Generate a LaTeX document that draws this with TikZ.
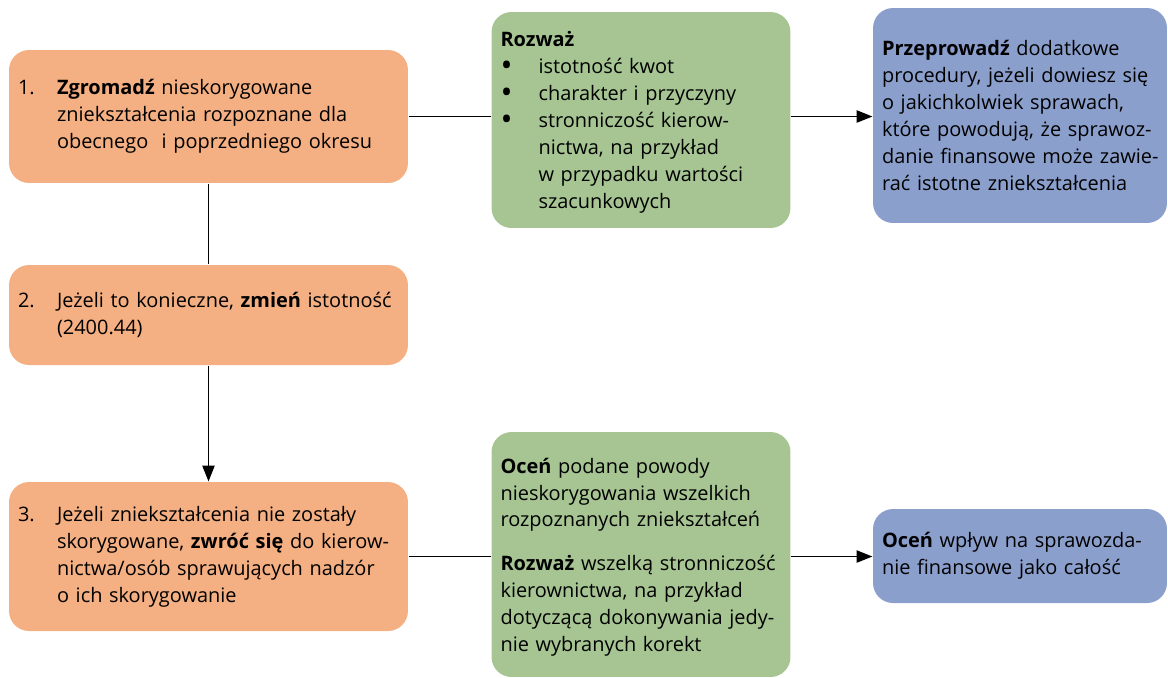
\documentclass[tikz,border=0pt]{standalone}
\usepackage{fontspec}
\setmainfont{Open Sans}
\usetikzlibrary{arrows.meta}

\definecolor{stepfill}{RGB}{244,175,130}
\definecolor{thinkfill}{RGB}{166,197,147}
\definecolor{actfill}{RGB}{139,159,205}

\newcommand{\numlbl}[1]{\makebox[0.78cm][l]{#1}}
\newcommand{\blt}{\makebox[0.76cm][l]{\raisebox{-0.25ex}[0pt][0pt]{\scalebox{1.6}{\textbullet}}}}
\newcommand{\hang}[1]{\hspace*{#1}}

\tikzset{
  box/.style={rounded corners=0.4cm, inner xsep=0.18cm, inner ysep=0pt, align=left,
    font=\fontsize{11.35}{15.3}\selectfont},
  stepbox/.style={box, fill=stepfill, text width=7.62cm, minimum width=7.98cm},
  thinkbox/.style={box, fill=thinkfill, text width=5.62cm, minimum width=5.98cm},
  actbox/.style={box, fill=actfill, text width=5.52cm, minimum width=5.88cm},
  arr/.style={-{Triangle[length=9pt,width=7pt]}},
}

\begin{document}
\begin{tikzpicture}[x=0.02cm,y=-0.02cm,line width=0.7pt]
\useasboundingbox (0,0) rectangle (1168,677);
%left column
\node[stepbox, minimum height=2.66cm] (zb1) at (208.5,116.5)
  {\numlbl{1.}\textbf{Zgromadź} nieskorygowane\\
   \hang{0.78cm}zniekształcenia rozpoznane dla\\
   \hang{0.78cm}obecnego\ \ i poprzedniego okresu};
\node[stepbox, minimum height=2cm] (zb2) at (208.5,315)
  {\numlbl{2.}Jeżeli to konieczne, \textbf{zmień} istotność\\
   \hang{0.78cm}(2400.44)};
\node[stepbox, minimum height=2.98cm] (zb3) at (208.5,556.5)
  {\numlbl{3.}Jeżeli zniekształcenia nie zostały\\
   \hang{0.78cm}skorygowane, \textbf{zwróć się} do kierow-\\
   \hang{0.78cm}nictwa/osób sprawujących nadzór\\
   \hang{0.78cm}o ich skorygowanie};

%middle column
\node[thinkbox, minimum height=4.32cm] (rw1) at (641,120)
  {\rule{0pt}{0.4cm}\textbf{Rozważ}\\
   \blt istotność kwot\\
   \blt charakter i przyczyny\\
   \blt stronniczość kierow-\\
   \hang{0.76cm}nictwa, na przykład\\
   \hang{0.76cm}w przypadku wartości\\
   \hang{0.76cm}szacunkowych};
\node[thinkbox, minimum height=4.9cm] (rw2) at (641,554.5)
  {\rule{0pt}{0.4cm}\textbf{Oceń} podane powody\\
   nieskorygowania wszelkich\\
   rozpoznanych zniekształceń\\[0.33cm]
   \textbf{Rozważ} wszelką stronniczość\\
   kierownictwa, na przykład\\
   dotyczącą dokonywania jedy-\\
   nie wybranych korekt};

%right column
\node[actbox, minimum height=4.3cm] (pr1) at (1020,115.5)
  {\textbf{Przeprowadź} dodatkowe\\
   procedury, jeżeli dowiesz się\\
   o jakichkolwiek sprawach,\\
   \mbox{które powodują, że sprawoz-}\\
   \mbox{danie finansowe może zawie-}\\
   rać istotne zniekształcenia};
\node[actbox, minimum height=1.88cm] (pr2) at (1020,556)
  {\textbf{Oceń} wpływ na sprawozda-\\
   nie finansowe jako całość};

%connectors
\draw (zb1.east) -- (zb1.east -| rw1.west);
\draw[arr] (rw1.east |- zb1.east) -- (pr1.west |- zb1.east);
\draw (zb1.south) -- (zb2.north);
\draw[arr] (zb2.south) -- (zb3.north);
\draw (zb3.east) -- (zb3.east -| rw2.west);
\draw[arr] (rw2.east |- zb3.east) -- (pr2.west |- zb3.east);
\end{tikzpicture}
\end{document}
